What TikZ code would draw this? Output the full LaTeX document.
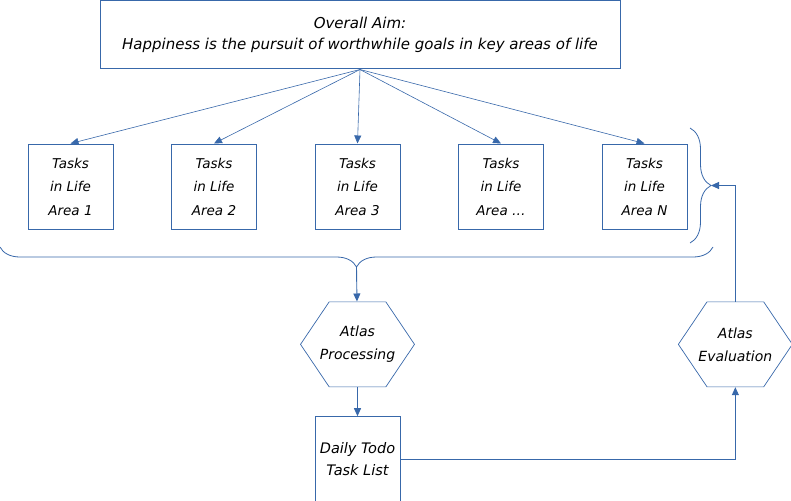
\documentclass[tikz,border=0pt]{standalone}
\usepackage{fontspec}
\setmainfont{DejaVu Sans}
\usepackage{tikz}
\usetikzlibrary{shapes.symbols, arrows.meta, positioning, decorations.pathreplacing}
\definecolor{atlasblue}{RGB}{56, 104, 170}

\begin{document}
\begin{tikzpicture}[
    x=1pt, y=-1pt,
    node distance=57.5pt,
    every node/.style={font=\fontsize{13.5}{23.5}\selectfont\itshape, text=black},
    box/.style={draw=atlasblue, line width=1pt, minimum width=85pt, minimum height=85pt, inner sep=0pt, align=center},
    hexa/.style={draw=atlasblue, line width=0.7pt, shape=signal, signal to=west and east, signal pointer angle=112, minimum width=114pt, minimum height=85pt, inner xsep=-12pt, inner ysep=0pt, align=center, font=\fontsize{14}{23}\selectfont\itshape},
    arrow/.style={-{Triangle[length=8pt, width=7pt]}, line width=0.9pt, draw=atlasblue},
    curly/.style={draw=atlasblue, line width=0.8pt, decorate, decoration={brace, amplitude=#1}}
]
    \useasboundingbox (0,0) rectangle (791,500);
    \node[box, minimum width=520pt, minimum height=68pt, font=\fontsize{15}{21}\selectfont\itshape] (aim) at (360,35) {Overall Aim:\\Happiness is the pursuit of worthwhile goals in key areas of life};
    \node[box, below=74pt of aim.south, anchor=north, xshift=-2.5pt] (area3) {Tasks\\in Life\\Area 3};
    \node[box, left=of area3] (area2) {Tasks\\in Life\\Area 2};
    \node[box, left=of area2] (area1) {Tasks\\in Life\\Area 1};
    \node[box, right=of area3] (area4) {Tasks\\in Life\\Area \dots};
    \node[box, right=of area4] (areaN) {Tasks\\in Life\\Area N};
    \node[hexa, below=72pt of area3] (process) {Atlas\\Processing};
    \node[box, below=29pt of process, font=\fontsize{14.5}{22}\selectfont\itshape] (todo) {Daily Todo\\Task List};
    \node[hexa, right=263pt of process] (evaluate) {Atlas\\Evaluation};

    % braces round the task areas
    \coordinate (bl) at (0,247);
    \coordinate (br) at (713,247);
    \coordinate (btip) at (356.5,267);
    \coordinate (rt) at (690,128);
    \coordinate (rb) at (690,243);
    \coordinate (rtip) at (711,185.5);
    \draw[curly=20pt] (br) -- (bl);
    \draw[curly=21pt] (rt) -- (rb);

    \foreach \area in {area1, area2, area3, area4, areaN}
        \draw[arrow, line width=0.6pt] (aim.south) -- (\area.north);
    \draw[arrow] (btip) -- (process);
    \draw[arrow] (process) -- (todo);
    \draw[arrow] (todo.east) -| (evaluate.south);
    \draw[arrow] (evaluate.north) |- (rtip);
\end{tikzpicture}
\end{document}
